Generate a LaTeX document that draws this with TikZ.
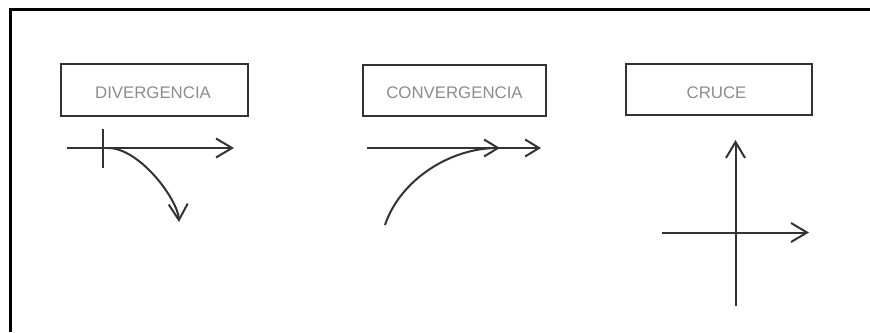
\documentclass[tikz,border=0pt]{standalone}
\usepackage{fontspec}
\setmainfont{Liberation Sans}
\usetikzlibrary{arrows.meta}
\definecolor{ink}{HTML}{333333}
\definecolor{lbl}{HTML}{8C8C8C}
\tikzset{
  road/.style={draw=ink, line width=2pt},
  barb/.style={-{Straight Barb[length=16pt,width=19pt,line width=2pt]}},
  barbs/.style={-{Straight Barb[length=14pt,width=17pt,line width=2pt]}},
  labelbox/.style={draw=ink, line width=1.8pt},
  lbltext/.style={text=lbl, font=\fontsize{16.8pt}{18pt}\selectfont, inner sep=0pt},
}
\begin{document}
\begin{tikzpicture}[x=1pt,y=-1pt]
\useasboundingbox (0,0) rectangle (870,332);
% frame
\coordinate (f1) at (10.5,332);
\coordinate (f2) at (10.5,9.5);
\coordinate (f3) at (870,9.5);
\draw[black, line width=2.2pt] (f1) -- (f2) -- (f3);

% label boxes
\node[labelbox] (bdiv) [minimum width=187pt, minimum height=52pt] at (154.5,90) {};
\node[labelbox] (bcon) [minimum width=183pt, minimum height=51pt] at (454.5,90.5) {};
\node[labelbox] (bcru) [minimum width=186pt, minimum height=51pt] at (719,89.5) {};
\node[lbltext] (tdiv) at (153,93) {DIVERGENCIA};
\node[lbltext] (tcon) at (454.5,93) {CONVERGENCIA};
\node[lbltext] (tcru) at (716.5,93) {CRUCE};

% divergencia
\coordinate (d1) at (67,148);
\coordinate (d2) at (234,148);
\coordinate (dt1) at (103,129);
\coordinate (dt2) at (103,168);
\coordinate (ds) at (108,148);
\coordinate (de) at (179,222);
\draw[road, barb] (d1) -- (d2);
\draw[road] (dt1) -- (dt2);
\draw[road, barb] (ds) .. controls (140,148) and (178,200) .. (de);

% convergencia
\coordinate (c1) at (367,148);
\coordinate (c2) at (541,148);
\coordinate (cs) at (385,225);
\coordinate (ce) at (500,148);
\draw[road, barbs] (c1) -- (c2);
\draw[road, barbs] (cs) .. controls (400,180) and (450,148) .. (ce);

% cruce
\coordinate (v1) at (735.5,306);
\coordinate (v2) at (735.5,140);
\coordinate (h1) at (662,232.5);
\coordinate (h2) at (809,232.5);
\draw[road, barb] (v1) -- (v2);
\draw[road, barb] (h1) -- (h2);
\end{tikzpicture}
\end{document}
